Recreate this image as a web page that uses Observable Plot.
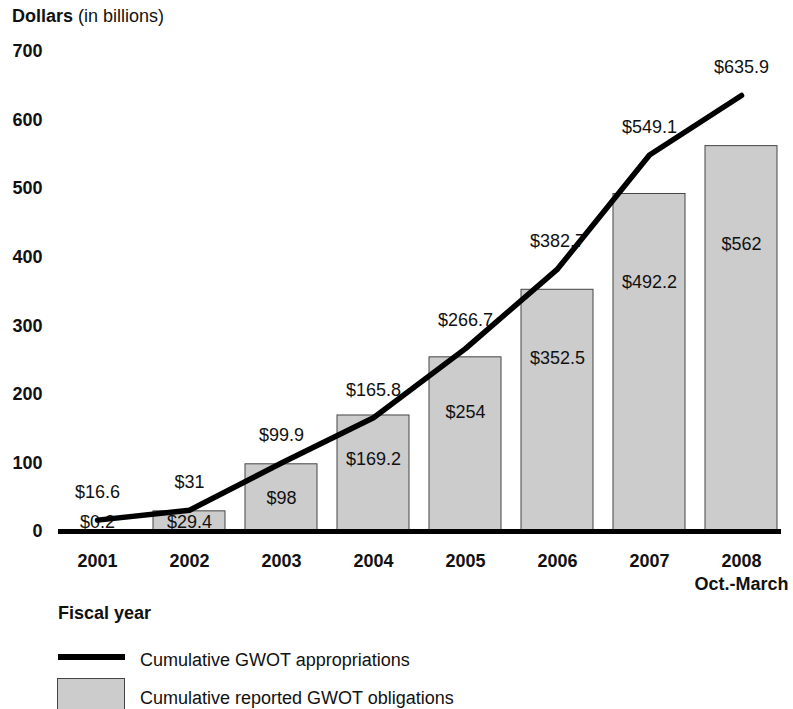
<!DOCTYPE html>
<html>
<head>
<meta charset="utf-8">
<script src="https://cdn.jsdelivr.net/npm/d3@7"></script>
<script src="https://cdn.jsdelivr.net/npm/@observablehq/plot@0.6"></script>
<style>
  body { margin: 0; background: #fff; font-family: "Liberation Sans", Arial, Helvetica, sans-serif; color: #111; }
  #wrap { position: relative; width: 793px; height: 709px; overflow: hidden; background: #fff; }
  #title { position: absolute; left: 12px; top: 5px; font-size: 18px; line-height: 22px; }
  #chart { position: absolute; left: 0; top: 32px; }
  #chart svg { overflow: visible; }
  #fy { position: absolute; left: 58px; top: 602px; font-size: 18px; line-height: 22px; font-weight: bold; }
  .legtext { position: absolute; left: 140px; font-size: 18px; line-height: 22px; }
  #legline { position: absolute; left: 58px; top: 654px; width: 67px; height: 6px; background: #000; }
  #legbox { position: absolute; left: 57px; top: 678px; width: 66px; height: 44px; background: #cccccc; border: 1px solid #444; }
</style>
</head>
<body>
<div id="wrap">
  <div id="title"><b>Dollars</b> (in billions)</div>
  <div id="chart"></div>
  <div id="fy">Fiscal year</div>
  <div id="legline"></div>
  <div class="legtext" style="top:649px">Cumulative GWOT appropriations</div>
  <div id="legbox"></div>
  <div class="legtext" style="top:687px">Cumulative reported GWOT obligations</div>
</div>
<script>
const years = ["2001", "2002", "2003", "2004", "2005", "2006", "2007", "2008"];
const yearLabels = ["2001", "2002", "2003", "2004", "2005", "2006", "2007", "2008\nOct.-March"];
const appropriations = [16.6, 31, 99.9, 165.8, 266.7, 382.7, 549.1, 635.9];
const obligations = [0.2, 29.4, 98, 169.2, 254, 352.5, 492.2, 562];
const yTicks = [0, 100, 200, 300, 400, 500, 600, 700];

const rows = years.map((year, i) => ({
  year,
  approp: appropriations[i],
  oblig: obligations[i]
}));

const fmt = v => "$" + v;

const chart = Plot.plot({
  width: 793,
  height: 560,
  marginTop: 19,
  marginBottom: 61,
  marginLeft: 58,
  marginRight: 12,
  style: { fontFamily: '"Liberation Sans", Arial, Helvetica, sans-serif', fontSize: "18px", color: "#111", background: "transparent", overflow: "visible" },
  x: { domain: years, paddingInner: 0.215, paddingOuter: 0, align: 0.5 },
  y: { domain: [0, 700] },
  marks: [
    Plot.barY(rows, { x: "year", y: "oblig", fill: "#cccccc", stroke: "#444", strokeWidth: 1 }),
    Plot.text(rows, {
      x: "year",
      y: d => Math.max(0.8 * d.oblig - 30, 14),
      text: d => fmt(d.oblig),
      fontSize: 18,
      fill: "#111"
    }),
    Plot.text(rows, {
      x: "year",
      y: "approp",
      text: d => fmt(d.approp),
      dy: -28,
      fontSize: 18,
      fill: "#111"
    }),
    Plot.ruleY([0], { stroke: "#000", strokeWidth: 5 }),
    Plot.line(rows, { x: "year", y: "approp", stroke: "#000", strokeWidth: 5.5, strokeLinejoin: "round" }),
    Plot.axisX({
      tickSize: 0,
      tickPadding: 19.5,
      fontSize: 18,
      fontWeight: "bold",
      lineHeight: 1.28,
      fill: "#111",
      label: null,
      tickFormat: d => yearLabels[years.indexOf(d)]
    }),
    Plot.axisY({
      ticks: yTicks,
      tickSize: 0,
      tickPadding: 16,
      fontSize: 18,
      fontWeight: "bold",
      fill: "#111",
      label: null
    })
  ]
});
document.getElementById("chart").appendChild(chart);
</script>
</body>
</html>
